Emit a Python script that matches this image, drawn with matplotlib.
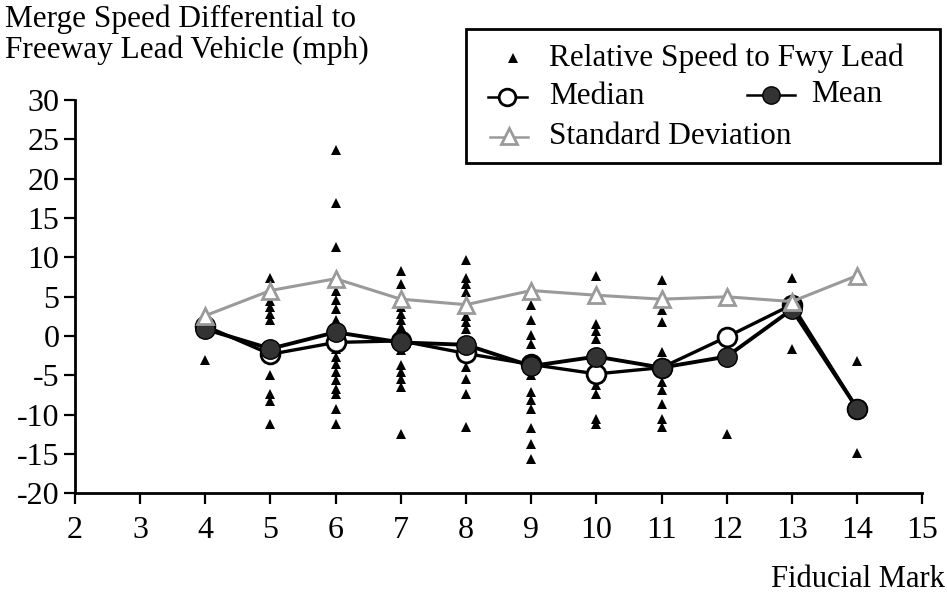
import matplotlib
matplotlib.use("Agg")
import matplotlib.pyplot as plt
from matplotlib.lines import Line2D
from matplotlib.patches import Rectangle

plt.rcParams['font.family'] = ['Liberation Serif', 'DejaVu Serif']

# Fiducial marks with summary statistics
marks = [4, 5, 6, 7, 8, 9, 10, 11, 12, 13, 14]
median_vals = [1.3, -2.3, -0.8, -0.6, -2.2, -3.6, -4.8, -4.0, -0.1, 4.0, -9.2]
mean_vals = [0.9, -1.6, 0.5, -0.8, -1.1, -3.8, -2.6, -4.0, -2.6, 3.4, -9.2]
std_vals = [2.6, 5.8, 7.3, 4.7, 4.0, 5.8, 5.2, 4.7, 5.0, 4.4, 7.7]

# Individual relative speeds to the freeway lead vehicle, per fiducial mark
rel_speed = {
    4: [-3.0],
    5: [7.4, 4.5, 3.7, 2.8, 2.0, -4.9, -7.4, -8.3, -11.2],
    6: [23.6, 16.9, 11.3, 5.8, 4.6, 3.5, 2.1, -1.6, -2.6, -3.6, -4.6, -5.6,
        -6.7, -7.4, -9.2, -11.2],
    7: [8.3, 6.6, 3.7, 2.8, 2.0, 1.1, -1.8, -3.7, -4.5, -5.5, -6.5, -12.4],
    8: [9.7, 7.4, 6.6, 5.6, 2.6, 1.8, 0.9, -3.9, -5.4, -7.3, -11.5],
    9: [4.0, 2.1, 0.1, -1.0, -4.9, -7.1, -8.1, -9.2, -11.7, -13.7, -15.6],
    10: [7.7, 1.5, 0.6, -0.4, -6.2, -7.3, -10.5, -11.2],
    11: [7.2, 3.3, 1.8, -2.0, -3.3, -5.8, -6.8, -8.6, -10.5, -11.5],
    12: [-12.4],
    13: [7.4, -1.6],
    14: [-3.2, -14.9],
}

x_ticks = list(range(2, 16))
y_ticks = list(range(-20, 31, 5))

fig = plt.figure(figsize=(9.47, 5.96), dpi=100)
ax = fig.add_axes([0.079, 0.172, 0.895, 0.66])

gray = '#9a9a9a'

# scatter of individual observations
xs, ys = [], []
for m, vals in rel_speed.items():
    xs += [m] * len(vals)
    ys += vals
ax.plot(xs, ys, linestyle='none', marker='^', ms=7.2, color='black',
        markeredgewidth=0, zorder=2)

ax.plot(marks, median_vals, color='black', lw=2.4, marker='o', ms=13.5,
        markerfacecolor='white', markeredgecolor='black', markeredgewidth=2,
        zorder=4)
ax.plot(marks, mean_vals, color='black', lw=2.8, marker='o', ms=14,
        markerfacecolor='#333333', markeredgecolor='black', markeredgewidth=1,
        zorder=5)
ax.plot(marks, std_vals, color=gray, lw=2.2, marker='^', ms=12,
        markerfacecolor='white', markeredgecolor=gray, markeredgewidth=2,
        zorder=6)

ax.set_xlim(2, 15)
ax.set_ylim(-20, 30)
ax.set_xticks(x_ticks)
ax.set_yticks(y_ticks)
ax.set_xticklabels([str(t) for t in x_ticks])
ax.set_yticklabels([str(t) for t in y_ticks])
for s in ['top', 'right']:
    ax.spines[s].set_visible(False)
for s in ['left', 'bottom']:
    ax.spines[s].set_linewidth(2)
    ax.spines[s].set_clip_on(False)
ax.tick_params(axis='both', direction='out', length=8, width=1.6,
               labelsize=23, colors='black')
ax.tick_params(axis='x', pad=8)
ax.tick_params(axis='y', pad=3)

fig.text(0.005, 0.993, 'Merge Speed Differential to\nFreeway Lead Vehicle (mph)',
         ha='left', va='top', fontsize=22.5, linespacing=1.1)
fig.text(0.998, 0.027, 'Fiducial Mark', ha='right', va='center', fontsize=22)

# legend box
W, H = 947.0, 596.0
def fx(px):
    return px / W
def fy(py):
    return 1 - py / H

fig.patches.append(Rectangle((fx(466), fy(163)), fx(940) - fx(466),
                             fy(29) - fy(163), transform=fig.transFigure,
                             fill=False, lw=2, edgecolor='black'))

leg_fs = 22.5
fig.lines.append(Line2D([fx(513)], [fy(58)], transform=fig.transFigure,
                        linestyle='none', marker='^', ms=7.2, color='black',
                        markeredgewidth=0))
fig.text(fx(549), fy(58), 'Relative Speed to Fwy Lead', va='center',
         ha='left', fontsize=leg_fs)

fig.lines.append(Line2D([fx(488), fx(527)], [fy(97), fy(97)],
                        transform=fig.transFigure, color='black', lw=1.8))
fig.lines.append(Line2D([fx(507)], [fy(97)], transform=fig.transFigure,
                        linestyle='none', marker='o', ms=12,
                        markerfacecolor='white', markeredgecolor='black',
                        markeredgewidth=2))
fig.text(fx(549), fy(97), 'Median', va='center', ha='left', fontsize=leg_fs)

fig.lines.append(Line2D([fx(747), fx(795)], [fy(95), fy(95)],
                        transform=fig.transFigure, color='black', lw=1.8))
fig.lines.append(Line2D([fx(771)], [fy(95)], transform=fig.transFigure,
                        linestyle='none', marker='o', ms=12.5,
                        markerfacecolor='#333333', markeredgecolor='black',
                        markeredgewidth=1))
fig.text(fx(811), fy(95), 'Mean', va='center', ha='left', fontsize=leg_fs)

fig.lines.append(Line2D([fx(490), fx(528)], [fy(137), fy(137)],
                        transform=fig.transFigure, color=gray, lw=1.8))
fig.lines.append(Line2D([fx(509)], [fy(136)], transform=fig.transFigure,
                        linestyle='none', marker='^', ms=11,
                        markerfacecolor='white', markeredgecolor=gray,
                        markeredgewidth=2))
fig.text(fx(549), fy(137), 'Standard Deviation', va='center', ha='left',
         fontsize=leg_fs)

fig.savefig('out.png', dpi=100)
